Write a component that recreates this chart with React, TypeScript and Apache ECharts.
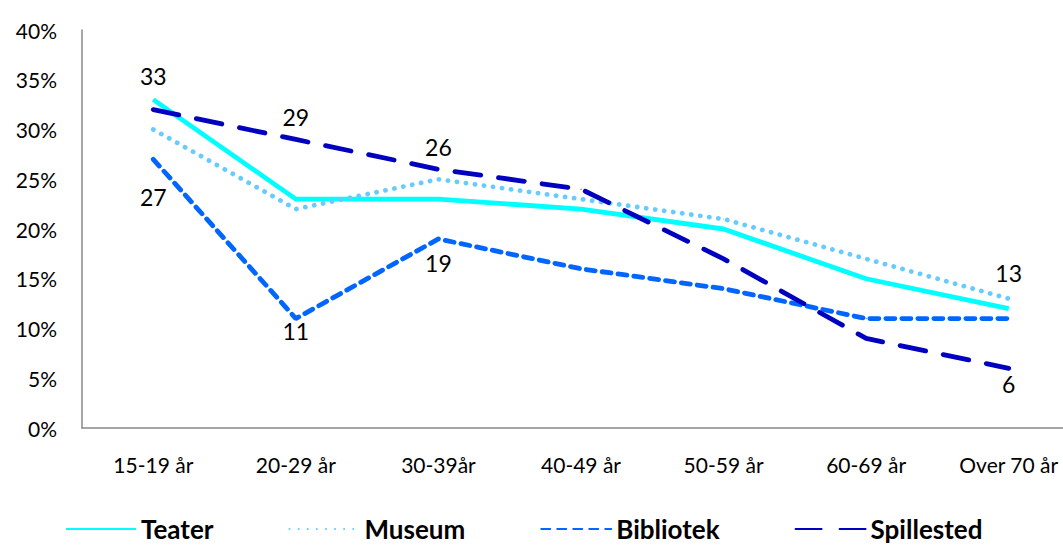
import React, { useEffect, useRef } from "react";
import * as echarts from "echarts";

const categories = ["15-19 år", "20-29 år", "30-39år", "40-49 år", "50-59 år", "60-69 år", "Over 70 år"];
const teater = [33, 23, 23, 22, 20, 15, 12];
const museum = [30, 22, 25, 23, 21, 17, 13];
const bibliotek = [27, 11, 19, 16, 14, 11, 11];
const spillested = [32, 29, 26, 24, 17, 9, 6];
const yTicks = [0, 5, 10, 15, 20, 25, 30, 35, 40];

// which points show a value label: [categoryIndex, position, distance]
const teaterLabels: [number, string, number][] = [[0, "top", 12]];
const museumLabels: [number, string, number][] = [[6, "top", 14]];
const bibliotekLabels: [number, string, number][] = [[0, "bottom", 26], [1, "bottom", 0], [2, "bottom", 12]];
const spillestedLabels: [number, string, number][] = [[1, "top", 10], [2, "top", 10], [6, "bottom", 4]];

const FONT = "Lato, 'Open Sans', sans-serif";

function build(values: number[], labels: [number, string, number][]) {
  return values.map((v, i) => {
    const l = labels.find((x) => x[0] === i);
    if (!l) return v;
    return {
      value: v,
      label: {
        show: true,
        position: l[1],
        distance: l[2],
        color: "#000",
        fontSize: 23,
        fontFamily: FONT,
        formatter: "{c}",
      },
    };
  });
}

export default function App() {
  const ref = useRef<HTMLDivElement>(null);
  useEffect(() => {
    if (!ref.current) return;
    const chart = echarts.init(ref.current, undefined, { renderer: "svg" });
    const mk = (name: string, data: number[], labels: [number, string, number][], color: string, type: any, cap: any) => ({
      name,
      type: "line",
      data: build(data, labels),
      symbol: "circle",
      symbolSize: 1,
      showSymbol: true,
      lineStyle: { color, width: 4.8, type, cap },
      itemStyle: { color },
      z: 2,
    });
    chart.setOption({
      animation: false,
      backgroundColor: "#fff",
      grid: { left: 82, top: 30, height: 398, width: 998 },
      legend: {
        top: 514,
        left: 65,
        padding: 0,
        itemWidth: 70,
        itemHeight: 10,
        itemGap: 75,
        itemStyle: { opacity: 0 },
        textStyle: { fontSize: 26, fontWeight: "bold", fontFamily: FONT, color: "#000", lineHeight: 30 },
        data: ["Teater", "Museum", "Bibliotek", "Spillested"],
      },
      xAxis: {
        type: "category",
        data: categories,
        boundaryGap: true,
        axisLine: { lineStyle: { color: "#898989", width: 1.5 } },
        axisTick: { show: false },
        axisLabel: { fontSize: 21, fontFamily: FONT, color: "#000", margin: 26, interval: 0 },
      },
      yAxis: {
        type: "value",
        min: 0,
        max: 40,
        interval: 5,
        splitLine: { show: false },
        axisLine: { show: true, lineStyle: { color: "#898989", width: 1.5 } },
        axisTick: { show: false },
        axisLabel: {
          fontSize: 21,
          fontFamily: FONT,
          color: "#000",
          margin: 25,
          formatter: (v: number) => (yTicks.includes(v) ? v + "%" : ""),
        },
      },
      series: [
        mk("Teater", teater, teaterLabels, "#00FFFF", "solid", "butt"),
        mk("Museum", museum, museumLabels, "#66CCFF", [0.1, 9], "round"),
        mk("Bibliotek", bibliotek, bibliotekLabels, "#0066FF", [9, 7], "round"),
        mk("Spillested", spillested, spillestedLabels, "#0000C0", [26, 18], "round"),
      ],
    });
    return () => chart.dispose();
  }, []);
  return <div ref={ref} style={{ position: "fixed", left: 0, top: 0, width: 1100, height: 545 }} />;
}
